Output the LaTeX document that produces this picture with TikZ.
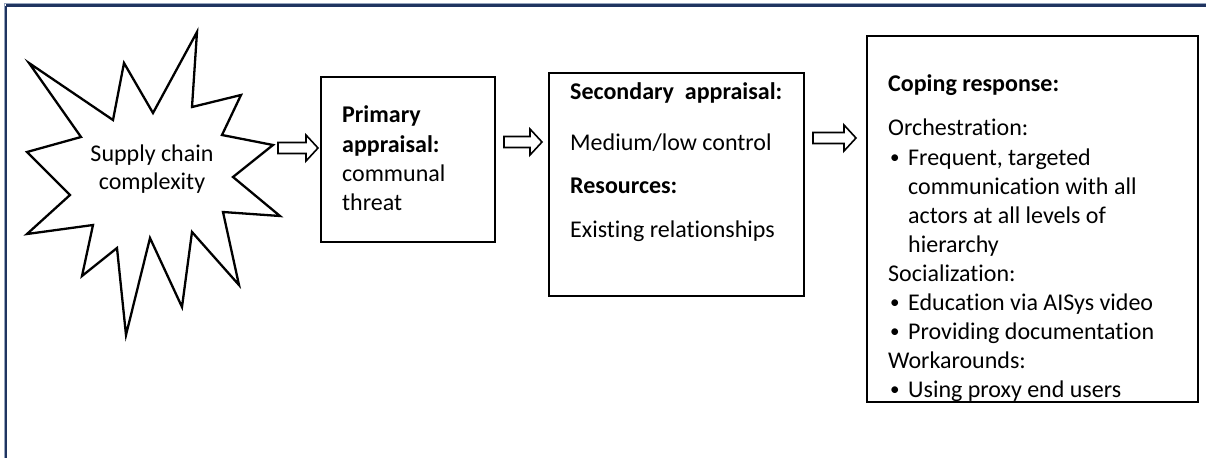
\documentclass[tikz,border=0pt]{standalone}
\usepackage{fontspec}
\setmainfont{Carlito}[Ligatures=NoCommon]
\usetikzlibrary{calc}
\definecolor{framenavy}{RGB}{31,52,96}
\definecolor{framelight}{RGB}{150,165,190}
\tikzset{
  box/.style={draw=black, line width=2.4pt, rectangle, inner sep=0pt, anchor=north west},
  txt/.style={anchor=base west, inner sep=0pt, font=\fontsize{24}{29}\selectfont},
  ctxt/.style={anchor=base, inner sep=0pt, font=\fontsize{24}{29}\selectfont},
  bul/.style={anchor=base west, inner sep=0pt, font=\fontsize{19}{29}\selectfont},
  barrow/.style={draw=black, line width=1.6pt, fill=white, line join=miter},
  burst/.style={draw=black, line width=2.3pt, fill=white, line join=miter, miter limit=20},
  frameline/.style={draw=framenavy, line width=2.4pt}
}
\newcommand\hollowarrow[2]{%
  \draw[barrow] let \p1=(#1), \p2=(#2) in
    (\x1,\y1+5.5pt) -- (\x2-12pt,\y1+5.5pt) -- (\x2-12pt,\y1+13pt) -- (\x2,\y1)
    -- (\x2-12pt,\y1-13pt) -- (\x2-12pt,\y1-5.5pt) -- (\x1,\y1-5.5pt) -- cycle;}
\begin{document}
\begin{tikzpicture}[x=1pt,y=-1pt]
\useasboundingbox (0,0) rectangle (1206,458);
% outer frame (only top and left visible)
\draw[draw=framelight, line width=0.8pt] (4.2,3.6) -- (1206,3.6);
\draw[draw=framelight, line width=0.8pt] (4.2,3.6) -- (4.2,458);
\draw[frameline] (6,5.6) -- (1206,5.6);
\draw[frameline] (6,5.6) -- (6,458);

% starburst
\draw[burst] (197,32) -- (192,107) -- (241,95) -- (222,135) -- (273,145) -- (233,177)
  -- (280,216) -- (223,212) -- (239,285) -- (192,232) -- (182,307) -- (150,238)
  -- (126,335) -- (117,248) -- (82,276) -- (93,225) -- (27,234) -- (70,195)
  -- (27,152) -- (81,137) -- (29,63) -- (113,120) -- (124,63) -- (153,113) -- cycle;
\node[ctxt] (star1) at (152,161.5) {Supply chain};
\node[ctxt] (star2) at (152,189.5) {complexity};
\coordinate (a1s) at (278,148);

% boxes
\node[box, minimum width=174, minimum height=165] (b1) at (320,76) {};
\node[box, minimum width=255, minimum height=223] (b2) at (548,72) {};
\node[box, minimum width=331, minimum height=366] (b3) at (866,35) {};

% box 1 text
\node[txt] (p1) at (342,122.5) {\bfseries Primary};
\node[txt] (p2) at (342,152) {\bfseries appraisal:};
\node[txt] (p3) at (342,181) {communal};
\node[txt] (p4) at (342,210.5) {threat};

% box 2 text
\node[txt] (s1) at (570,99) {\bfseries Secondary~ appraisal:};
\node[txt] (s2) at (570,150) {Medium/low control};
\node[txt] (s3) at (570,193) {\bfseries Resources:};
\node[txt] (s4) at (570,237) {Existing relationships};

% box 3 text
\node[txt] (c0) at (888,91.5) {\bfseries Coping response:};
\node[txt] (c1) at (888,135) {Orchestration:};
\node[bul] (c2b) at (890,163) {\textbullet};
\node[txt] (c2) at (908,165) {Frequent, targeted};
\node[txt] (c3) at (908,194.1) {communication with all};
\node[txt] (c4) at (908,223.2) {actors at all levels of};
\node[txt] (c5) at (908,252.3) {hierarchy};
\node[txt] (c6) at (888,281.4) {Socialization:};
\node[bul] (c7b) at (890,308.5) {\textbullet};
\node[txt] (c7) at (908,310.5) {Education via AISys video};
\node[bul] (c8b) at (890,337.6) {\textbullet};
\node[txt] (c8) at (908,339.6) {Providing documentation};
\node[txt] (c9) at (888,368.7) {Workarounds:};
\node[bul] (c10b) at (890,395.8) {\textbullet};
\node[txt] (c10) at (908,397.8) {Using proxy end users};

% arrows
\coordinate (a1e) at ($(b1.west|-a1s)+(-2,0)$);
\coordinate (a2s) at (504,142);
\coordinate (a2e) at ($(b2.west|-a2s)+(-6,0)$);
\coordinate (a3s) at (813,138);
\coordinate (a3e) at ($(b3.west|-a3s)+(-10,0)$);
\hollowarrow{a1s}{a1e}
\hollowarrow{a2s}{a2e}
\hollowarrow{a3s}{a3e}
\end{tikzpicture}
\end{document}
